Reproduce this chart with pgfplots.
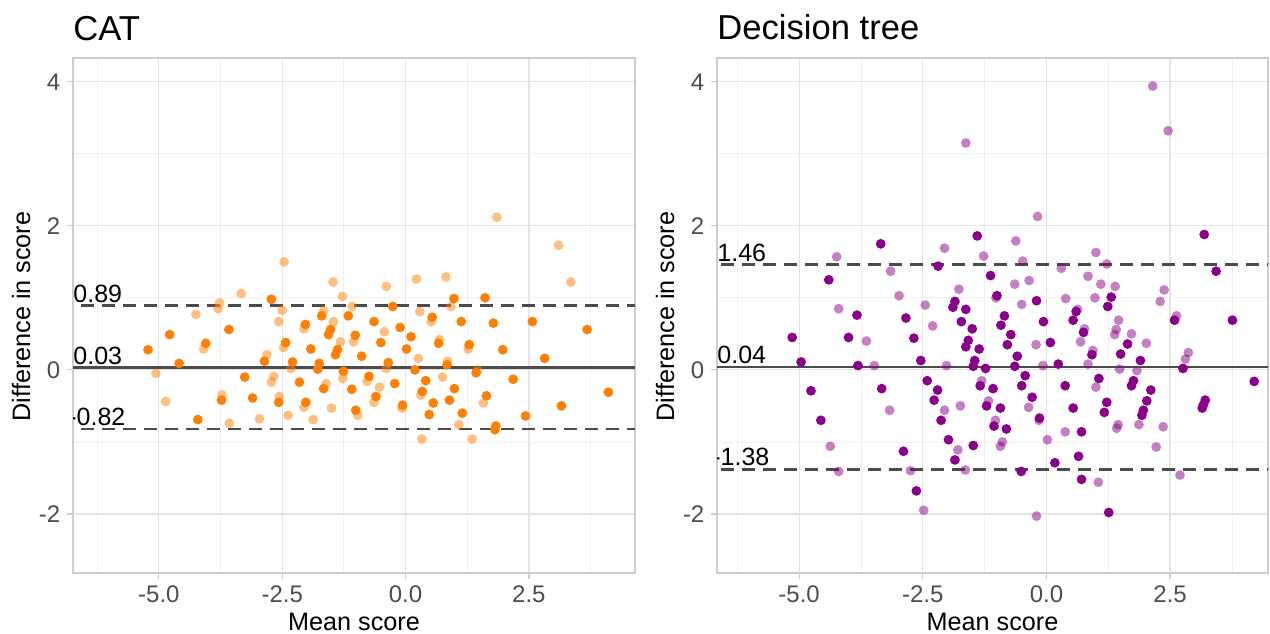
\documentclass[border=0pt]{standalone}
\usepackage{pgfplots}
\pgfplotsset{compat=1.18}
\usepackage{fontspec}
\setmainfont{Liberation Sans}
\definecolor{orangeC}{RGB}{255,128,0}
\definecolor{purpleC}{RGB}{139,0,139}
\definecolor{tickgray}{RGB}{77,77,77}
\definecolor{gridmaj}{RGB}{228,228,228}
\definecolor{gridmin}{RGB}{240,240,240}
\definecolor{bordergray}{RGB}{205,205,205}
\definecolor{linegray}{RGB}{75,75,75}

\pgfplotstableread{
x y
1.85 2.12
3.10 1.73
-2.46 1.50
3.35 1.22
-1.47 1.22
0.22 1.26
0.82 1.29
-0.39 1.16
-3.33 1.06
-1.28 1.02
-3.77 0.93
-3.80 0.85
-1.08 0.88
0.92 0.88
-2.50 0.83
-1.66 0.82
0.29 0.81
0.52 0.67
-1.46 0.67
-2.57 0.67
-2.06 0.57
-4.25 0.77
-0.43 0.53
-5.06 -0.05
-4.09 0.29
-4.86 -0.44
-3.72 -0.35
-3.57 -0.74
-2.96 -0.68
-2.81 0.21
-2.72 -0.17
-2.67 -0.09
-2.47 0.31
-2.32 0.02
-2.56 -0.37
-2.38 -0.63
-2.06 -0.52
-1.87 -0.69
-1.61 -0.19
-1.50 -0.53
-1.32 0.39
-1.27 -0.12
-0.97 -0.63
-1.05 0.39
-0.78 -0.16
-0.64 -0.45
-0.53 -0.24
-0.39 0.02
-0.07 -0.53
0.26 0.16
0.31 -0.35
0.33 -0.96
0.69 0.42
0.85 0.12
0.75 -0.10
1.08 -0.76
1.27 0.29
1.35 -0.96
1.46 0.00
1.58 -0.46
}\catlight

\pgfplotstableread{
x y
-2.72 0.98
0.98 0.99
1.61 1.00
-0.26 0.88
-1.70 0.75
-1.16 0.75
0.54 0.73
-2.03 0.63
-0.64 0.67
-0.11 0.59
1.13 0.67
1.78 0.65
2.57 0.67
3.68 0.56
-3.58 0.56
-1.52 0.56
-1.56 0.49
-1.02 0.48
0.11 0.46
-4.78 0.49
-5.22 0.28
-4.59 0.09
-4.05 0.37
-3.73 -0.42
-4.21 -0.69
-3.26 -0.10
-3.10 -0.39
-2.86 0.12
-2.43 0.38
-2.29 0.11
-2.15 -0.17
-2.57 -0.45
-2.02 -0.45
-1.92 0.29
-1.75 0.09
-1.78 0.01
-1.66 -0.26
-1.38 0.28
-1.42 0.21
-1.26 -0.02
-1.09 -0.27
-1.01 -0.56
-0.89 0.19
-0.74 -0.09
-0.50 0.38
-0.60 -0.37
-0.35 0.10
-0.22 -0.19
-0.06 -0.49
0.02 0.29
0.19 0.00
0.41 -0.15
0.34 -0.30
0.56 -0.46
0.48 -0.62
0.67 0.37
0.84 0.07
0.99 -0.26
0.89 -0.42
1.15 -0.60
1.29 0.35
1.43 -0.04
1.64 -0.36
1.83 -0.78
1.81 -0.83
1.97 0.28
2.18 -0.13
2.43 -0.64
2.82 0.16
3.16 -0.50
4.11 -0.31
}\catdark

\pgfplotstableread{
x y
2.15 3.94
2.46 3.32
-1.63 3.15
-0.18 2.13
-0.62 1.79
-2.06 1.69
-1.27 1.58
1.00 1.63
-4.24 1.57
-0.48 1.51
1.22 1.47
-3.15 1.37
0.30 1.41
0.84 1.30
-0.35 1.24
-0.64 1.19
1.10 1.19
1.39 1.16
-1.77 1.12
2.38 1.11
-2.98 1.03
-1.02 1.00
0.39 0.99
0.98 1.00
2.30 0.95
-2.45 0.90
-0.50 0.91
-4.20 0.85
0.63 0.84
2.63 0.75
1.46 0.69
-2.30 0.61
0.77 0.57
1.41 0.56
1.38 0.49
1.72 0.50
-4.37 -1.06
-4.20 -1.41
-3.64 0.40
-3.48 0.06
-3.17 -0.56
-2.75 -1.40
-2.48 -1.95
-2.02 0.06
-2.06 -0.56
-1.79 -1.11
-1.64 -1.39
-1.74 -0.50
-1.31 -0.15
-1.17 -0.43
-1.03 -0.70
-0.89 -1.00
-0.93 -1.06
-0.36 -0.52
-0.15 -0.70
-0.20 -2.03
-0.21 0.35
-0.07 0.06
0.02 -0.97
0.38 -0.86
1.05 -1.56
0.69 0.39
0.94 0.27
0.84 0.08
1.00 -0.24
1.42 -0.81
1.45 -0.76
1.48 0.01
1.83 -0.01
1.87 -0.76
2.02 0.37
2.36 -0.79
2.22 -1.07
2.70 -1.46
2.81 0.15
2.87 0.24
}\dtlight

\pgfplotstableread{
x y
-1.40 1.86
3.19 1.88
-3.35 1.75
-2.19 1.44
3.43 1.37
-4.40 1.25
-1.13 1.31
-1.00 1.03
1.31 1.01
-0.20 0.96
-1.85 0.95
-1.89 0.87
-1.63 0.84
0.60 0.81
1.24 0.88
-3.83 0.76
2.59 0.69
3.76 0.69
-2.84 0.72
-0.85 0.75
-0.92 0.62
-0.06 0.67
0.54 0.69
-1.72 0.67
-1.50 0.57
0.75 0.52
-0.72 0.49
-5.14 0.45
-4.00 0.45
-2.68 0.44
-4.96 0.11
-4.76 -0.29
-4.56 -0.70
-3.81 0.06
-3.33 -0.26
-2.89 -1.13
-2.63 -1.68
-2.54 0.13
-2.41 -0.15
-2.20 -0.28
-2.27 -0.42
-2.13 -0.70
-1.98 -0.97
-1.85 -1.25
-1.63 0.32
-1.58 0.41
-1.36 0.29
-1.45 0.13
-1.48 0.05
-1.23 0.02
-1.34 -0.22
-1.08 -0.26
-1.21 -0.50
-0.93 -0.53
-1.06 -0.78
-0.81 -0.82
-1.48 -1.05
-0.79 0.35
-0.59 0.19
-0.64 0.05
-0.43 -0.08
-0.50 -0.22
-0.29 -0.38
-0.14 -0.67
-0.51 -1.41
0.08 0.38
0.24 0.08
0.17 -1.29
0.38 -0.22
0.54 -0.53
0.71 -0.86
0.65 -1.20
0.71 -1.52
0.92 0.21
1.06 -0.12
1.22 -0.45
1.17 -0.59
1.26 -1.98
1.50 0.22
1.64 0.36
1.90 0.13
1.76 -0.15
1.72 -0.22
2.03 -0.43
2.11 -0.28
1.96 -0.56
1.93 -0.63
2.76 0.02
3.21 -0.42
3.17 -0.49
3.15 -0.53
4.20 -0.16
}\dtdark

\pgfplotsset{
  baplot/.style={
    scale only axis, height=257.5pt, anchor=south west,
    ymin=-2.82, ymax=4.33,
    xtick={-5,-2.5,0,2.5}, xticklabels={-5.0,-2.5,0.0,2.5},
    ytick={-2,0,2,4}, yticklabels={-2,0,2,4},
    minor xtick={-6.25,-3.75,-1.25,1.25,3.75},
    minor ytick={-3,-1,1,3},
    grid=both,
    major grid style={gridmaj, line width=0.6pt},
    minor grid style={gridmin, line width=0.4pt},
    axis line style={bordergray, line width=0.6pt},
    tick align=outside, major tick length=2.8pt, minor tick length=0pt,
    major tick style={bordergray, line width=0.6pt},
    xtick pos=left, ytick pos=left,
    tick label style={font=\fontsize{12}{14}\selectfont, text=tickgray},
  },
  ptlight/.style={only marks, mark=*, mark size=2.45pt, color=#1, mark options={draw opacity=0, fill opacity=0.5}},
  ptdark/.style={only marks, mark=*, mark size=2.45pt, color=#1, mark options={draw opacity=0}},
  meanline/.style={linegray, line width=1.35pt, forget plot},
  loaline/.style={linegray, line width=1.35pt, dash pattern=on 6.5pt off 4pt, forget plot},
}
\tikzset{annot/.style={anchor=base west, inner sep=0pt, font=\fontsize{12.5}{14}\selectfont, text=black}}

\begin{document}
\begin{tikzpicture}
\path[use as bounding box] (0,0) rectangle (635pt,316.5pt);

% ---------- CAT ----------
\begin{axis}[baplot, at={(36.5pt,30pt)}, width=281pt, xmin=-6.74, xmax=4.65]
  \addplot[ptlight=orangeC] table {\catlight};
  \addplot[ptdark=orangeC] table {\catdark};
  \addplot[meanline] coordinates {(-7,0.03) (5,0.03)};
  \addplot[loaline] coordinates {(-7,0.89) (5,0.89)};
  \addplot[loaline] coordinates {(-7,-0.82) (5,-0.82)};
  \node[annot, yshift=1.8pt] at (axis cs:-6.74,0.89) {0.89};
  \node[annot, yshift=1.8pt] at (axis cs:-6.74,0.03) {0.03};
  \node[annot, yshift=1.8pt, xshift=-2.5pt] at (axis cs:-6.74,-0.82) {-0.82};
\end{axis}

% ---------- Decision tree ----------
\begin{axis}[baplot, at={(358.5pt,30pt)}, width=275.5pt, xmin=-6.66, xmax=4.48]
  \addplot[ptlight=purpleC] table {\dtlight};
  \addplot[ptdark=purpleC] table {\dtdark};
  \addplot[meanline] coordinates {(-7,0.04) (5,0.04)};
  \addplot[loaline] coordinates {(-7,1.46) (5,1.46)};
  \addplot[loaline] coordinates {(-7,-1.38) (5,-1.38)};
  \node[annot, yshift=1.8pt] at (axis cs:-6.66,1.46) {1.46};
  \node[annot, yshift=1.8pt] at (axis cs:-6.66,0.04) {0.04};
  \node[annot, yshift=1.8pt, xshift=-2.5pt] at (axis cs:-6.66,-1.38) {-1.38};
\end{axis}

% titles
\node[anchor=base west, inner sep=0pt, font=\fontsize{17.3}{20}\selectfont] at (36.5pt,296pt) {CAT};
\node[anchor=base west, inner sep=0pt, font=\fontsize{17.3}{20}\selectfont] at (358.5pt,296.5pt) {Decision tree};
% axis titles
\node[anchor=base, inner sep=0pt, font=\fontsize{12.6}{14}\selectfont] at (177pt,1.5pt) {Mean score};
\node[anchor=base, inner sep=0pt, font=\fontsize{12.6}{14}\selectfont] at (496.25pt,1.5pt) {Mean score};
\node[rotate=90, inner sep=0pt, font=\fontsize{12.6}{14}\selectfont] at (10.5pt,158.25pt) {Difference in score};
\node[rotate=90, inner sep=0pt, font=\fontsize{12.6}{14}\selectfont] at (332.5pt,158.25pt) {Difference in score};
\end{tikzpicture}
\end{document}
